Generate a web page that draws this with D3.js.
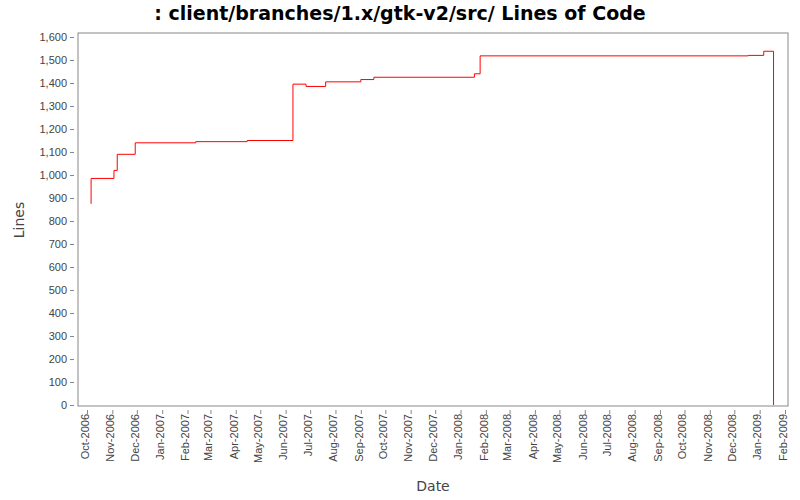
<!DOCTYPE html>
<html><head><meta charset="utf-8">
<script src="https://cdn.jsdelivr.net/npm/d3@7"></script>
<style>body{margin:0;background:#fff}svg{font-family:"DejaVu Sans",sans-serif}</style>
</head><body><div id="chart"></div>
<script>
const dates = ["2006-10-06","2006-10-06","2006-11-03","2006-11-07","2006-11-29","2007-02-11","2007-04-15","2007-06-10","2007-06-26","2007-07-20","2007-09-01","2007-09-17","2008-01-18","2008-01-25","2008-12-18","2009-01-06","2009-01-18"];
const lines = [875,985,1020,1090,1140,1145,1150,1395,1385,1405,1415,1425,1440,1518,1520,1538,0];
const yTicks = d3.range(0,1601,100);

const W=800,H=500,m={l:78,r:12,t:33,b:94};
const svg=d3.select("#chart").append("svg").attr("width",W).attr("height",H);
const parse=d3.timeParse("%Y-%m-%d");
const data=dates.map((d,i)=>({d:parse(d),v:lines[i]}));
const x=d3.scaleTime().domain([new Date(2006,8,28),new Date(2009,1,1,0)]).range([m.l,W-m.r]);
x.domain([x.invert(m.l-9*0+0) ,x.domain()[1]]);
// fit Oct-2006 -> 87, Feb-2009 -> 785
const x0=new Date(2006,9,1),x1=new Date(2009,1,1);
const k=(785-87)/(x1-x0);
x.domain([new Date(+x0-(87-m.l)/k), new Date(+x1+(W-m.r-785)/k)]);
const y=d3.scaleLinear().domain([0,1600]).range([405,37]);
y.domain([y.invert(H-m.b),y.invert(m.t)]).range([H-m.b,m.t]);

svg.append("rect").attr("x",m.l).attr("y",m.t).attr("width",W-m.l-m.r).attr("height",H-m.t-m.b).attr("fill","#fff").attr("stroke","#888");

const ya=svg.append("g").attr("transform",`translate(${m.l-4},0)`).call(d3.axisLeft(y).tickValues(yTicks).tickFormat(d3.format(",")).tickSize(4).tickSizeOuter(0));
ya.select(".domain").remove();
ya.selectAll("text").attr("font-size",11).attr("fill","#444");
ya.selectAll("line").attr("stroke","#888");

const months=d3.timeMonth.range(new Date(2006,9,1),new Date(2009,1,2));
const xa=svg.append("g").attr("transform",`translate(0,${H-m.b+4})`).call(d3.axisBottom(x).tickValues(months).tickFormat(d3.timeFormat("%b-%Y")).tickSize(4).tickSizeOuter(0));
xa.select(".domain").remove();
xa.selectAll("line").attr("stroke","#888");
xa.selectAll("text").attr("font-size",11).attr("fill","#444").attr("transform","rotate(-90)").attr("text-anchor","end").attr("dx","-4").attr("dy","-0.25em").attr("x",0).attr("y",4);

svg.append("path").datum(data).attr("fill","none").attr("stroke","red").attr("stroke-width",1)
 .attr("d",d3.line().x(d=>x(d.d)).y(d=>y(d.v)).curve(d3.curveStepAfter));

svg.append("text").attr("x",W/2).attr("y",20).attr("text-anchor","middle").attr("font-size",19).attr("font-weight","bold").text(": client/branches/1.x/gtk-v2/src/ Lines of Code");
svg.append("text").attr("x",433).attr("y",491).attr("text-anchor","middle").attr("font-size",14).attr("fill","#444").text("Date");
svg.append("text").attr("transform","translate(24,220) rotate(-90)").attr("text-anchor","middle").attr("font-size",14).attr("fill","#444").text("Lines");
</script></body></html>
